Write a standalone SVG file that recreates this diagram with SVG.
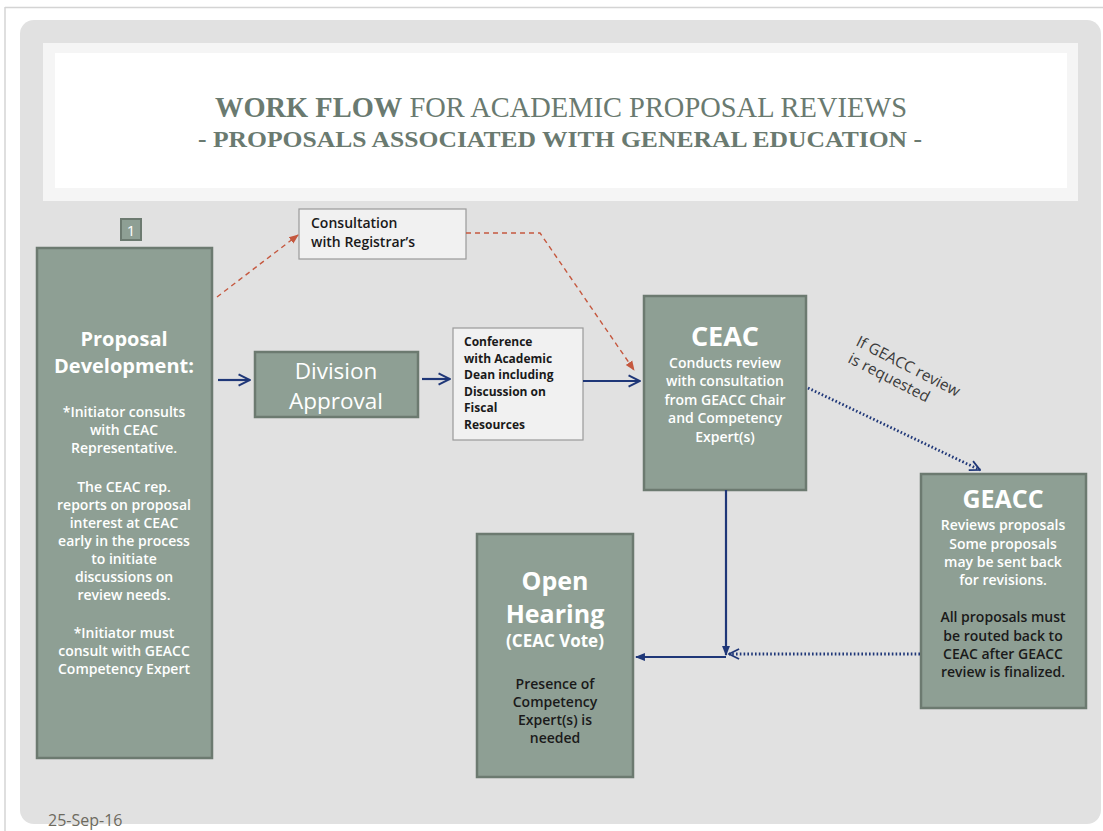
<svg xmlns="http://www.w3.org/2000/svg" width="1103" height="831" viewBox="0 0 1103 831">
  <style>
    .box { fill: #8e9f94; stroke: #6c7a70; stroke-width: 2.5; }
    .note { fill: #f1f1f1; stroke: #9a9a9a; stroke-width: 1.2; }
    .w { fill: #ffffff; font-family: "Open Sans", "Liberation Sans", sans-serif; text-anchor: middle; }
    .k { fill: #1a1a1a; font-family: "Open Sans", "Liberation Sans", sans-serif; }
    .head { font-weight: 700; }
    .body { font-size: 14px; font-weight: 600; }
    .title { font-family: "Liberation Serif", serif; fill: #6a7a70; text-anchor: middle; }
    .solid { fill: none; stroke: #1f3778; stroke-width: 2.2; }
    .dot { fill: none; stroke: #1f3778; stroke-width: 2.8; stroke-dasharray: 1.6 2.2; }
    .dash { fill: none; stroke: #c5583f; stroke-width: 1.4; stroke-dasharray: 5 4; }
  </style>
  <defs>
    <marker id="chev" viewBox="0 0 10 10" refX="9" refY="5" markerWidth="6.5" markerHeight="6.5" orient="auto" markerUnits="strokeWidth">
      <path d="M1,1 L9,5 L1,9" fill="none" stroke="#1f3778" stroke-width="1.4"/>
    </marker>
    <marker id="chevd" viewBox="0 0 10 10" refX="9" refY="5" markerWidth="4.5" markerHeight="4.5" orient="auto" markerUnits="strokeWidth">
      <path d="M1,1 L9,5 L1,9" fill="none" stroke="#1f3778" stroke-width="1.4"/>
    </marker>
    <marker id="tri" viewBox="0 0 10 10" refX="9" refY="5" markerWidth="4.5" markerHeight="4.5" orient="auto" markerUnits="strokeWidth">
      <path d="M0,1 L10,5 L0,9 Z" fill="#1f3778"/>
    </marker>
    <marker id="redtri" viewBox="0 0 10 10" refX="9" refY="5" markerWidth="7" markerHeight="7" orient="auto" markerUnits="strokeWidth">
      <path d="M0,1 L10,5 L0,9 Z" fill="#c5583f"/>
    </marker>
  </defs>

  <!-- page frame -->
  <rect x="0" y="0" width="1103" height="831" fill="#ffffff"/>
  <line x1="5" y1="7.5" x2="1103" y2="7.5" stroke="#d4d4d4" stroke-width="1.5"/>
  <line x1="5" y1="7" x2="5" y2="831" stroke="#d4d4d4" stroke-width="1.5"/>
  <rect x="20" y="20" width="1081" height="804" rx="14" fill="#e1e1e1"/>

  <!-- title band -->
  <rect x="43" y="43" width="1035" height="158" fill="#f5f5f5"/>
  <rect x="55" y="53" width="1012" height="135" fill="#ffffff"/>
  <text class="title" x="561" y="117" font-size="29" textLength="692" lengthAdjust="spacingAndGlyphs"><tspan font-weight="700">WORK FLOW</tspan> FOR ACADEMIC PROPOSAL REVIEWS</text>
  <text class="title" x="560" y="147" font-size="24" font-weight="700" textLength="724" lengthAdjust="spacingAndGlyphs">- PROPOSALS ASSOCIATED WITH GENERAL EDUCATION -</text>

  <!-- step badge -->
  <g id="badge">
    <rect x="121" y="219" width="20" height="21" fill="#8e9f94" stroke="#6c7a70" stroke-width="2"/>
    <text class="w" x="131" y="236" font-size="15">1</text>
  </g>

  <!-- proposal development -->
  <g id="proposal-development">
    <rect class="box" x="37" y="248" width="175" height="510"/>
    <text class="w head" x="124" y="346" font-size="20">Proposal</text>
    <text class="w head" x="124" y="373" font-size="20">Development:</text>
    <text class="w body" x="124" y="417">*Initiator consults</text>
    <text class="w body" x="124" y="435">with CEAC</text>
    <text class="w body" x="124" y="453">Representative.</text>
    <text class="w body" x="124" y="492">The CEAC rep.</text>
    <text class="w body" x="124" y="510">reports on proposal</text>
    <text class="w body" x="124" y="528">interest at CEAC</text>
    <text class="w body" x="124" y="546">early in the process</text>
    <text class="w body" x="124" y="564">to initiate</text>
    <text class="w body" x="124" y="582">discussions on</text>
    <text class="w body" x="124" y="600">review needs.</text>
    <text class="w body" x="124" y="638">*Initiator must</text>
    <text class="w body" x="124" y="656">consult with GEACC</text>
    <text class="w body" x="124" y="674">Competency Expert</text>
  </g>

  <!-- consultation with registrar -->
  <g id="registrar">
    <rect class="note" x="299" y="209" width="167" height="50"/>
    <text class="k body" x="311" y="228">Consultation</text>
    <text class="k body" x="311" y="247">with Registrar’s</text>
  </g>

  <!-- division approval -->
  <g id="division-approval">
    <rect class="box" x="255" y="352" width="163" height="65"/>
    <text class="w" x="336" y="379" font-size="22.5">Division</text>
    <text class="w" x="336" y="409" font-size="22.5">Approval</text>
  </g>

  <!-- dean conference -->
  <g id="dean-conference">
    <rect class="note" x="453" y="328" width="130" height="112"/>
    <text class="k" x="464" y="346" font-size="12" font-weight="700">Conference</text>
    <text class="k" x="464" y="363" font-size="12" font-weight="700">with Academic</text>
    <text class="k" x="464" y="379" font-size="12" font-weight="700">Dean including</text>
    <text class="k" x="464" y="396" font-size="12" font-weight="700">Discussion on</text>
    <text class="k" x="464" y="412" font-size="12" font-weight="700">Fiscal</text>
    <text class="k" x="464" y="429" font-size="12" font-weight="700">Resources</text>
  </g>

  <!-- CEAC -->
  <g id="ceac">
    <rect class="box" x="644" y="296" width="162" height="194"/>
    <text class="w head" x="725" y="346" font-size="27">CEAC</text>
    <text class="w body" x="725" y="368">Conducts review</text>
    <text class="w body" x="725" y="386">with consultation</text>
    <text class="w body" x="725" y="405">from GEACC Chair</text>
    <text class="w body" x="725" y="423">and Competency</text>
    <text class="w body" x="725" y="442">Expert(s)</text>
  </g>

  <!-- GEACC -->
  <g id="geacc">
    <rect class="box" x="921" y="474" width="165" height="234"/>
    <text class="w head" x="1003" y="508" font-size="25">GEACC</text>
    <text class="w body" x="1003" y="530">Reviews proposals</text>
    <text class="w body" x="1003" y="549">Some proposals</text>
    <text class="w body" x="1003" y="567">may be sent back</text>
    <text class="w body" x="1003" y="585">for revisions.</text>
    <text class="k body" x="1003" y="622" text-anchor="middle">All proposals must</text>
    <text class="k body" x="1003" y="641" text-anchor="middle">be routed back to</text>
    <text class="k body" x="1003" y="659" text-anchor="middle">CEAC after GEACC</text>
    <text class="k body" x="1003" y="677" text-anchor="middle">review is finalized.</text>
  </g>

  <!-- open hearing -->
  <g id="open-hearing">
    <rect class="box" x="477" y="534" width="156" height="243"/>
    <text class="w head" x="555" y="590" font-size="25">Open</text>
    <text class="w head" x="555" y="623" font-size="25">Hearing</text>
    <text class="w head" x="555" y="647" font-size="17">(CEAC Vote)</text>
    <text class="k body" x="555" y="689" text-anchor="middle">Presence of</text>
    <text class="k body" x="555" y="707" text-anchor="middle">Competency</text>
    <text class="k body" x="555" y="725" text-anchor="middle">Expert(s) is</text>
    <text class="k body" x="555" y="743" text-anchor="middle">needed</text>
  </g>

  <!-- connectors -->
  <g id="connectors">
    <line class="solid" x1="218" y1="380" x2="250" y2="380" marker-end="url(#chev)"/>
    <line class="solid" x1="422" y1="379" x2="450" y2="379" marker-end="url(#chev)"/>
    <line class="solid" x1="583" y1="381" x2="640" y2="381" marker-end="url(#chev)"/>
    <path class="dash" d="M217,297 L298,235" marker-end="url(#redtri)"/>
    <path class="dash" d="M466,233 L540,233 L634,370" marker-end="url(#redtri)"/>
    <path class="dot" d="M808,388 L980,470" marker-end="url(#chevd)"/>
    <path class="solid" d="M726,490 L726,655" marker-end="url(#tri)"/>
    <path class="solid" d="M726,657 L636,657" marker-end="url(#tri)"/>
    <path class="dot" d="M920,654 L729,654" marker-end="url(#chevd)"/>
    <text x="0" y="0" font-family="Open Sans, Liberation Sans, sans-serif" font-size="15.5" fill="#3a3a3a" transform="translate(855,345) rotate(27)">If GEACC review</text>
    <text x="0" y="0" font-family="Open Sans, Liberation Sans, sans-serif" font-size="15.5" fill="#3a3a3a" transform="translate(847,362) rotate(27)">is requested</text>
  </g>

  <text x="48" y="826" font-family="Open Sans, Liberation Sans, sans-serif" font-size="16" fill="#6d6a5e">25-Sep-16</text>
</svg>
